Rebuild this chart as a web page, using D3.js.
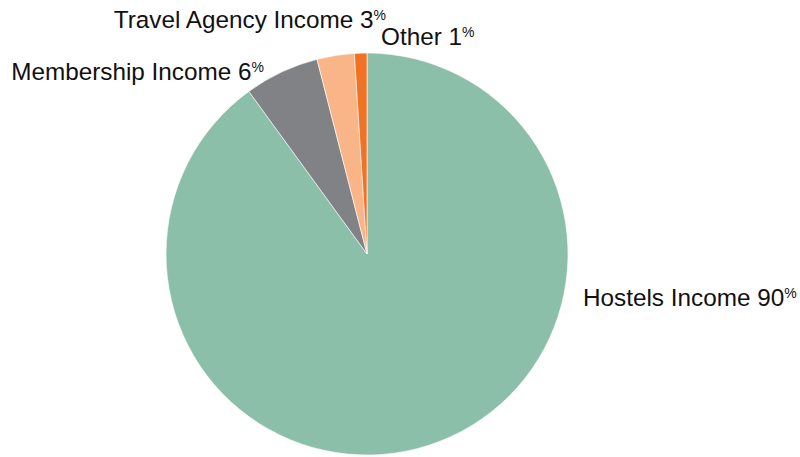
<!DOCTYPE html>
<html>
<head>
<meta charset="utf-8">
<script src="https://cdn.jsdelivr.net/npm/d3@7"></script>
<style>
  body { margin: 0; background: #fff; }
  text { font-family: "Liberation Sans", Arial, Helvetica, sans-serif; fill: #111; }
</style>
</head>
<body>
<div id="chart"></div>
<script>
// Data
const categories = ["Hostels Income", "Membership Income", "Travel Agency Income", "Other"];
const values = [90, 6, 3, 1];
const colors = ["#8bbfaa", "#818286", "#f9b587", "#f07224"];

// label placement (x, y baseline, anchor)
const labelPos = [
  {x: 583, y: 306, anchor: "start"},
  {x: 264, y: 80, anchor: "end"},
  {x: 386, y: 28, anchor: "end"},
  {x: 381, y: 45, anchor: "start"}
];

const width = 800, height = 457;
const cx = 367, cy = 254, radius = 201;

const svg = d3.select("#chart")
  .append("svg")
    .attr("width", width)
    .attr("height", height);

const pie = d3.pie().sort(null).value(d => d);
const arc = d3.arc().innerRadius(0).outerRadius(radius);

const g = svg.append("g")
  .attr("transform", "translate(" + cx + "," + cy + ")");

g.selectAll("path")
  .data(pie(values))
  .enter()
  .append("path")
    .attr("d", arc)
    .attr("fill", (d, i) => colors[i])
    .attr("stroke", "#ffffff")
    .attr("stroke-width", 0.6);

// Labels
const labels = svg.selectAll("text.label")
  .data(categories)
  .enter()
  .append("text")
    .attr("class", "label")
    .attr("x", (d, i) => labelPos[i].x)
    .attr("y", (d, i) => labelPos[i].y)
    .attr("text-anchor", (d, i) => labelPos[i].anchor)
    .style("font-size", "24.3px");

labels.append("tspan")
  .text((d, i) => d + " " + values[i]);
labels.append("tspan")
  .attr("dy", "-0.55em")
  .style("font-size", "14px")
  .text("%");
</script>
</body>
</html>
